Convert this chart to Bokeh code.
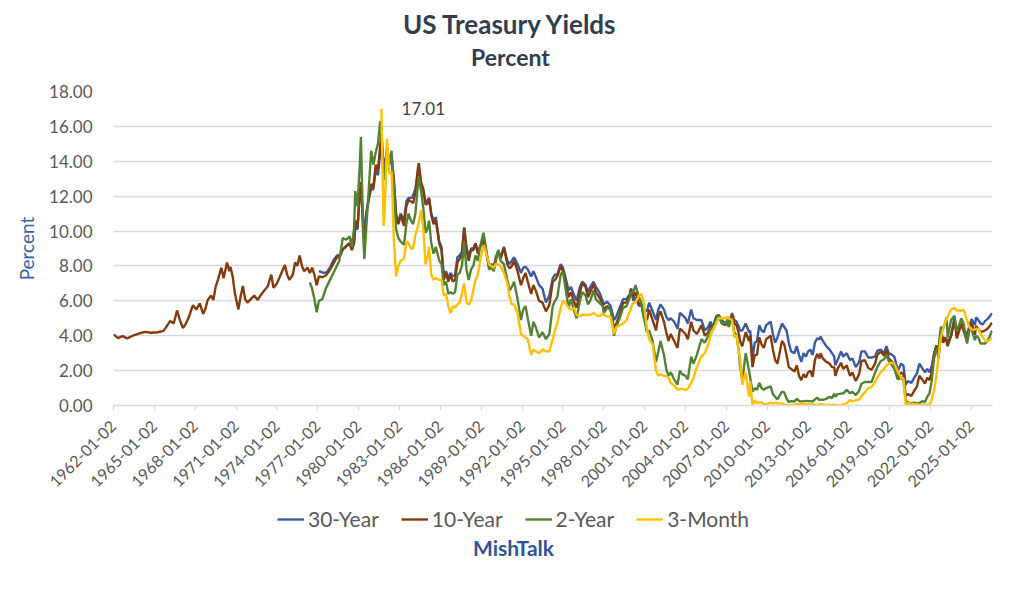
from math import pi

from bokeh.embed import file_html
from bokeh.layouts import column
from bokeh.models import ColumnDataSource, FixedTicker, Label, Legend, NumeralTickFormatter, Range1d
from bokeh.plotting import figure
from bokeh.resources import INLINE

# (month, percent)
thirty_year = [
    ("1977-02", 7.70), ("1977-06", 7.60), ("1977-09", 7.65), ("1977-12", 7.95),
    ("1978-03", 8.35), ("1978-06", 8.60), ("1978-09", 8.60), ("1978-11", 8.95),
    ("1979-02", 9.10), ("1979-05", 9.30), ("1979-07", 8.95), ("1979-09", 9.30),
    ("1979-10", 10.20), ("1979-12", 10.10), ("1980-02", 12.20), ("1980-03", 12.50),
    ("1980-06", 9.80), ("1980-08", 11.20), ("1980-10", 11.90), ("1980-12", 12.40),
    ("1981-02", 12.40), ("1981-04", 13.50), ("1981-06", 13.20), ("1981-09", 15.20),
    ("1981-11", 13.20), ("1982-01", 14.20), ("1982-04", 13.90), ("1982-06", 13.90),
    ("1982-08", 12.80), ("1982-10", 11.00), ("1982-12", 10.50), ("1983-02", 11.00),
    ("1983-05", 10.60), ("1983-07", 11.70), ("1983-09", 11.90), ("1983-12", 11.90),
    ("1984-03", 12.40), ("1984-06", 13.70), ("1984-08", 12.70), ("1984-10", 12.30),
    ("1984-12", 11.60), ("1985-03", 11.90), ("1985-05", 11.00), ("1985-07", 10.60),
    ("1985-09", 10.80), ("1985-12", 9.40), ("1986-02", 9.10), ("1986-04", 7.40),
    ("1986-06", 7.70), ("1986-08", 7.30), ("1986-10", 7.60), ("1986-12", 7.40),
    ("1987-02", 7.50), ("1987-04", 8.50), ("1987-06", 8.60), ("1987-08", 8.80),
    ("1987-10", 10.20), ("1987-12", 9.10), ("1988-02", 8.50), ("1988-04", 9.00),
    ("1988-06", 9.00), ("1988-08", 9.30), ("1988-10", 8.80), ("1988-12", 9.10),
    ("1989-03", 9.30), ("1989-05", 8.90), ("1989-08", 8.00), ("1989-10", 8.10),
    ("1989-12", 7.90), ("1990-02", 8.50), ("1990-04", 8.90), ("1990-06", 8.50),
    ("1990-09", 9.10), ("1990-12", 8.30), ("1991-02", 8.10), ("1991-04", 8.30),
    ("1991-06", 8.50), ("1991-09", 8.10), ("1991-12", 7.60), ("1992-02", 7.90),
    ("1992-04", 7.95), ("1992-06", 7.80), ("1992-09", 7.40), ("1992-11", 7.70),
    ("1993-01", 7.40), ("1993-04", 6.90), ("1993-07", 6.70), ("1993-10", 5.90),
    ("1994-01", 6.30), ("1994-04", 7.30), ("1994-06", 7.50), ("1994-08", 7.50),
    ("1994-11", 8.10), ("1995-01", 7.90), ("1995-03", 7.40), ("1995-06", 6.60),
    ("1995-08", 6.80), ("1995-11", 6.30), ("1996-01", 6.00), ("1996-04", 6.80),
    ("1996-06", 7.10), ("1996-09", 6.90), ("1996-11", 6.50), ("1997-01", 6.80),
    ("1997-04", 7.10), ("1997-06", 6.80), ("1997-09", 6.50), ("1997-12", 6.00),
    ("1998-01", 5.80), ("1998-04", 5.95), ("1998-07", 5.70), ("1998-10", 4.90),
    ("1998-12", 5.10), ("1999-03", 5.60), ("1999-06", 6.10), ("1999-09", 6.10),
    ("1999-12", 6.40), ("2000-01", 6.70), ("2000-03", 6.00), ("2000-05", 6.20),
    ("2000-08", 5.70), ("2000-10", 5.80), ("2000-12", 5.50), ("2001-03", 5.40),
    ("2001-05", 5.90), ("2001-08", 5.40), ("2001-11", 4.90), ("2002-01", 5.50),
    ("2002-03", 5.80), ("2002-06", 5.50), ("2002-08", 5.10), ("2002-10", 4.90),
    ("2002-12", 5.00), ("2003-03", 4.80), ("2003-06", 4.40), ("2003-08", 5.30),
    ("2003-10", 5.20), ("2004-01", 5.00), ("2004-03", 4.70), ("2004-06", 5.50),
    ("2004-08", 5.00), ("2004-11", 4.90), ("2005-03", 4.90), ("2005-06", 4.30),
    ("2005-09", 4.50), ("2005-11", 4.80), ("2006-01", 4.50), ("2006-04", 5.10),
    ("2006-06", 5.20), ("2006-09", 4.90), ("2006-12", 4.70), ("2007-02", 4.90),
    ("2007-03", 4.70), ("2007-06", 5.30), ("2007-08", 4.90), ("2007-10", 4.80),
    ("2007-12", 4.50), ("2008-01", 4.30), ("2008-03", 4.30), ("2008-06", 4.70),
    ("2008-09", 4.20), ("2008-10", 4.30), ("2008-12", 2.70), ("2009-02", 3.60),
    ("2009-04", 3.70), ("2009-06", 4.60), ("2009-08", 4.30), ("2009-10", 4.20),
    ("2009-12", 4.60), ("2010-04", 4.80), ("2010-06", 4.10), ("2010-08", 3.60),
    ("2010-10", 3.90), ("2011-02", 4.70), ("2011-04", 4.50), ("2011-06", 4.30),
    ("2011-08", 3.60), ("2011-10", 3.10), ("2012-01", 3.00), ("2012-03", 3.40),
    ("2012-05", 2.90), ("2012-07", 2.50), ("2012-09", 3.00), ("2012-11", 2.80),
    ("2013-01", 3.10), ("2013-03", 3.20), ("2013-05", 2.90), ("2013-07", 3.60),
    ("2013-09", 3.85), ("2013-11", 3.80), ("2013-12", 3.95), ("2014-02", 3.70),
    ("2014-05", 3.40), ("2014-08", 3.20), ("2014-10", 3.00), ("2014-12", 2.80),
    ("2015-01", 2.30), ("2015-03", 2.60), ("2015-06", 3.10), ("2015-08", 2.80),
    ("2015-11", 3.00), ("2016-02", 2.60), ("2016-04", 2.70), ("2016-07", 2.20),
    ("2016-10", 2.50), ("2016-12", 3.10), ("2017-03", 3.10), ("2017-06", 2.75),
    ("2017-09", 2.75), ("2017-12", 2.80), ("2018-02", 3.15), ("2018-05", 3.20),
    ("2018-08", 3.00), ("2018-10", 3.40), ("2018-12", 3.00), ("2019-03", 2.90),
    ("2019-05", 2.80), ("2019-08", 2.00), ("2019-11", 2.40), ("2020-01", 2.30),
    ("2020-03", 1.20), ("2020-05", 1.40), ("2020-08", 1.30), ("2020-11", 1.65),
    ("2021-01", 1.85), ("2021-03", 2.40), ("2021-06", 2.10), ("2021-08", 1.90),
    ("2021-10", 2.10), ("2021-12", 1.90), ("2022-02", 2.25), ("2022-04", 3.00),
    ("2022-06", 3.40), ("2022-08", 3.10), ("2022-10", 4.30), ("2022-12", 3.80),
    ("2023-02", 3.90), ("2023-04", 3.65), ("2023-07", 4.00), ("2023-10", 5.05),
    ("2023-12", 4.00), ("2024-02", 4.40), ("2024-04", 4.75), ("2024-06", 4.45),
    ("2024-09", 4.00), ("2024-11", 4.55), ("2025-01", 4.95), ("2025-04", 4.60),
    ("2025-05", 5.05), ("2025-07", 4.90), ("2025-09", 4.70), ("2025-11", 4.65),
    ("2026-01", 4.85), ("2026-03", 4.95), ("2026-05", 5.10), ("2026-07", 5.30),
]

ten_year = [
    ("1962-01", 4.08), ("1962-05", 3.86), ("1962-09", 3.98), ("1963-01", 3.85),
    ("1963-06", 4.00), ("1963-12", 4.14), ("1964-05", 4.22), ("1964-10", 4.17),
    ("1965-04", 4.20), ("1965-09", 4.28), ("1965-12", 4.55), ("1966-03", 4.85),
    ("1966-06", 4.70), ("1966-09", 5.45), ("1966-11", 5.00), ("1967-02", 4.45),
    ("1967-04", 4.60), ("1967-07", 5.00), ("1967-11", 5.75), ("1968-02", 5.50),
    ("1968-05", 5.85), ("1968-08", 5.25), ("1968-10", 5.55), ("1968-12", 6.05),
    ("1969-03", 6.30), ("1969-05", 6.05), ("1969-07", 6.80), ("1969-09", 7.20),
    ("1969-12", 7.90), ("1970-02", 7.30), ("1970-05", 8.20), ("1970-07", 7.70),
    ("1970-08", 7.95), ("1970-10", 7.40), ("1970-12", 6.40), ("1971-03", 5.50),
    ("1971-05", 6.25), ("1971-07", 6.85), ("1971-09", 6.10), ("1971-11", 5.90),
    ("1972-02", 6.10), ("1972-05", 6.30), ("1972-08", 6.05), ("1972-11", 6.35),
    ("1973-02", 6.60), ("1973-05", 6.85), ("1973-08", 7.50), ("1973-10", 6.75),
    ("1974-01", 7.00), ("1974-05", 7.60), ("1974-08", 8.05), ("1974-10", 7.50),
    ("1974-12", 7.20), ("1975-03", 7.50), ("1975-05", 8.20), ("1975-07", 8.00),
    ("1975-09", 8.60), ("1975-11", 8.00), ("1976-01", 7.70), ("1976-04", 7.90),
    ("1976-06", 7.60), ("1976-08", 7.90), ("1976-10", 7.50), ("1976-12", 6.90),
    ("1977-02", 7.40), ("1977-05", 7.35), ("1977-08", 7.45), ("1977-11", 7.70),
    ("1978-02", 8.05), ("1978-05", 8.40), ("1978-08", 8.60), ("1978-11", 8.95),
    ("1979-02", 9.15), ("1979-05", 9.30), ("1979-07", 8.90), ("1979-09", 9.40),
    ("1979-10", 10.60), ("1979-12", 10.20), ("1980-02", 12.30), ("1980-03", 12.80),
    ("1980-05", 10.00), ("1980-06", 9.50), ("1980-08", 11.00), ("1980-10", 11.80),
    ("1980-12", 12.70), ("1981-02", 12.50), ("1981-04", 13.80), ("1981-06", 13.50),
    ("1981-09", 15.60), ("1981-11", 13.40), ("1981-12", 13.90), ("1982-02", 14.60),
    ("1982-04", 13.90), ("1982-06", 14.30), ("1982-08", 13.00), ("1982-10", 10.80),
    ("1982-12", 10.40), ("1983-02", 10.90), ("1983-05", 10.30), ("1983-07", 11.40),
    ("1983-09", 11.80), ("1983-11", 11.70), ("1984-01", 11.60), ("1984-03", 12.20),
    ("1984-05", 13.50), ("1984-06", 13.90), ("1984-08", 12.80), ("1984-10", 12.40),
    ("1984-12", 11.50), ("1985-02", 11.60), ("1985-03", 11.90), ("1985-05", 10.90),
    ("1985-07", 10.40), ("1985-09", 10.60), ("1985-12", 9.30), ("1986-02", 8.90),
    ("1986-04", 7.20), ("1986-06", 7.60), ("1986-08", 7.10), ("1986-10", 7.50),
    ("1986-12", 7.10), ("1987-02", 7.20), ("1987-04", 8.20), ("1987-06", 8.40),
    ("1987-08", 8.60), ("1987-10", 10.20), ("1987-12", 8.90), ("1988-02", 8.30),
    ("1988-04", 8.90), ("1988-06", 8.90), ("1988-08", 9.30), ("1988-10", 8.70),
    ("1988-12", 9.10), ("1989-03", 9.50), ("1989-05", 8.90), ("1989-08", 7.90),
    ("1989-10", 8.10), ("1989-12", 7.80), ("1990-02", 8.50), ("1990-04", 8.80),
    ("1990-06", 8.40), ("1990-09", 9.05), ("1990-12", 8.10), ("1991-02", 7.85),
    ("1991-04", 8.00), ("1991-06", 8.30), ("1991-09", 7.70), ("1991-12", 6.90),
    ("1992-02", 7.30), ("1992-04", 7.60), ("1992-06", 7.10), ("1992-09", 6.40),
    ("1992-11", 6.90), ("1993-01", 6.60), ("1993-04", 6.00), ("1993-07", 5.90),
    ("1993-10", 5.40), ("1994-01", 5.75), ("1994-04", 7.10), ("1994-06", 7.20),
    ("1994-08", 7.40), ("1994-11", 8.00), ("1995-01", 7.70), ("1995-03", 7.20),
    ("1995-06", 6.20), ("1995-08", 6.50), ("1995-11", 5.90), ("1996-01", 5.60),
    ("1996-04", 6.50), ("1996-06", 7.00), ("1996-09", 6.80), ("1996-11", 6.20),
    ("1997-01", 6.50), ("1997-04", 6.95), ("1997-06", 6.50), ("1997-09", 6.20),
    ("1997-12", 5.80), ("1998-01", 5.50), ("1998-04", 5.70), ("1998-07", 5.50),
    ("1998-10", 4.40), ("1998-12", 4.70), ("1999-03", 5.20), ("1999-06", 5.90),
    ("1999-09", 5.90), ("1999-12", 6.30), ("2000-01", 6.70), ("2000-03", 6.20),
    ("2000-05", 6.50), ("2000-08", 5.80), ("2000-10", 5.80), ("2000-12", 5.20),
    ("2001-03", 4.90), ("2001-05", 5.50), ("2001-08", 4.90), ("2001-11", 4.30),
    ("2002-01", 5.10), ("2002-03", 5.40), ("2002-06", 4.80), ("2002-08", 4.20),
    ("2002-10", 3.70), ("2002-12", 4.10), ("2003-03", 3.70), ("2003-06", 3.30),
    ("2003-08", 4.40), ("2003-10", 4.30), ("2004-01", 4.10), ("2004-03", 3.80),
    ("2004-06", 4.80), ("2004-08", 4.30), ("2004-11", 4.10), ("2005-03", 4.60),
    ("2005-06", 4.00), ("2005-09", 4.20), ("2005-11", 4.60), ("2006-01", 4.40),
    ("2006-04", 5.00), ("2006-06", 5.20), ("2006-09", 4.70), ("2006-12", 4.60),
    ("2007-02", 4.80), ("2007-03", 4.50), ("2007-06", 5.20), ("2007-08", 4.70),
    ("2007-10", 4.60), ("2007-12", 4.10), ("2008-01", 3.70), ("2008-03", 3.40),
    ("2008-06", 4.20), ("2008-09", 3.70), ("2008-10", 4.00), ("2008-12", 2.20),
    ("2009-02", 2.90), ("2009-04", 2.90), ("2009-06", 3.90), ("2009-08", 3.50),
    ("2009-10", 3.30), ("2009-12", 3.80), ("2010-04", 4.00), ("2010-06", 3.20),
    ("2010-08", 2.60), ("2010-10", 2.40), ("2011-02", 3.70), ("2011-04", 3.50),
    ("2011-06", 2.90), ("2011-08", 2.20), ("2011-10", 2.10), ("2012-01", 1.95),
    ("2012-03", 2.30), ("2012-05", 1.70), ("2012-07", 1.45), ("2012-09", 1.80),
    ("2012-11", 1.60), ("2013-01", 1.90), ("2013-03", 2.00), ("2013-05", 1.65),
    ("2013-07", 2.60), ("2013-09", 2.95), ("2013-11", 2.70), ("2013-12", 3.00),
    ("2014-02", 2.70), ("2014-05", 2.50), ("2014-08", 2.40), ("2014-10", 2.20),
    ("2014-12", 2.20), ("2015-01", 1.70), ("2015-03", 2.10), ("2015-06", 2.45),
    ("2015-08", 2.10), ("2015-11", 2.30), ("2016-02", 1.70), ("2016-04", 1.90),
    ("2016-07", 1.40), ("2016-10", 1.80), ("2016-12", 2.55), ("2017-03", 2.60),
    ("2017-06", 2.15), ("2017-09", 2.05), ("2017-12", 2.40), ("2018-02", 2.90),
    ("2018-05", 3.10), ("2018-08", 2.85), ("2018-10", 3.20), ("2018-12", 2.70),
    ("2019-03", 2.50), ("2019-05", 2.30), ("2019-08", 1.55), ("2019-11", 1.90),
    ("2020-01", 1.80), ("2020-03", 0.55), ("2020-05", 0.65), ("2020-08", 0.55),
    ("2020-11", 0.90), ("2021-01", 1.10), ("2021-03", 1.70), ("2021-06", 1.45),
    ("2021-08", 1.25), ("2021-10", 1.60), ("2021-12", 1.45), ("2022-02", 1.95),
    ("2022-04", 2.90), ("2022-06", 3.45), ("2022-08", 2.70), ("2022-10", 4.20),
    ("2022-12", 3.60), ("2023-02", 3.90), ("2023-04", 3.40), ("2023-07", 4.00),
    ("2023-10", 4.95), ("2023-12", 3.85), ("2024-02", 4.25), ("2024-04", 4.65),
    ("2024-06", 4.30), ("2024-09", 3.65), ("2024-11", 4.40), ("2025-01", 4.75),
    ("2025-04", 4.05), ("2025-05", 4.55), ("2025-07", 4.40), ("2025-09", 4.20),
    ("2025-11", 4.25), ("2026-01", 4.30), ("2026-03", 4.40), ("2026-05", 4.55),
    ("2026-07", 4.75),
]

two_year = [
    ("1976-06", 7.05), ("1976-08", 6.70), ("1976-10", 6.10), ("1976-12", 5.35),
    ("1977-02", 6.00), ("1977-05", 6.10), ("1977-08", 6.70), ("1977-11", 7.10),
    ("1978-02", 7.50), ("1978-05", 7.90), ("1978-08", 8.30), ("1978-11", 9.60),
    ("1979-02", 9.50), ("1979-05", 9.70), ("1979-07", 9.10), ("1979-09", 10.20),
    ("1979-10", 12.30), ("1979-12", 11.40), ("1980-02", 13.80), ("1980-03", 15.40),
    ("1980-05", 9.80), ("1980-06", 8.40), ("1980-08", 10.50), ("1980-10", 12.50),
    ("1980-12", 14.60), ("1981-02", 13.80), ("1981-04", 14.50), ("1981-06", 15.00),
    ("1981-08", 16.30), ("1981-09", 16.00), ("1981-11", 12.90), ("1981-12", 13.40),
    ("1982-02", 14.80), ("1982-04", 13.90), ("1982-06", 14.60), ("1982-08", 12.50),
    ("1982-10", 10.10), ("1982-12", 9.60), ("1983-02", 9.40), ("1983-05", 9.20),
    ("1983-07", 10.40), ("1983-09", 11.00), ("1983-11", 10.60), ("1984-01", 10.40),
    ("1984-03", 11.00), ("1984-05", 12.50), ("1984-06", 13.10), ("1984-08", 12.30),
    ("1984-10", 11.30), ("1984-12", 9.90), ("1985-02", 10.20), ("1985-03", 10.60),
    ("1985-05", 9.30), ("1985-07", 8.70), ("1985-09", 9.10), ("1985-12", 8.30),
    ("1986-02", 8.10), ("1986-04", 6.90), ("1986-06", 7.10), ("1986-08", 6.40),
    ("1986-10", 6.50), ("1986-12", 6.40), ("1987-02", 6.50), ("1987-04", 7.50),
    ("1987-06", 7.60), ("1987-08", 8.00), ("1987-10", 9.40), ("1987-12", 7.80),
    ("1988-02", 7.20), ("1988-04", 7.80), ("1988-06", 8.00), ("1988-08", 8.60),
    ("1988-10", 8.30), ("1988-12", 9.10), ("1989-03", 9.90), ("1989-05", 9.10),
    ("1989-08", 7.80), ("1989-10", 7.90), ("1989-12", 7.70), ("1990-02", 8.30),
    ("1990-04", 8.90), ("1990-06", 8.30), ("1990-09", 8.10), ("1990-12", 7.20),
    ("1991-02", 6.60), ("1991-04", 6.80), ("1991-06", 7.10), ("1991-09", 6.10),
    ("1991-12", 4.90), ("1992-02", 5.50), ("1992-04", 5.70), ("1992-06", 5.00),
    ("1992-09", 4.00), ("1992-11", 4.80), ("1993-01", 4.50), ("1993-04", 3.90),
    ("1993-07", 4.20), ("1993-10", 3.80), ("1994-01", 4.10), ("1994-04", 5.70),
    ("1994-06", 6.00), ("1994-08", 6.20), ("1994-11", 7.50), ("1995-01", 7.70),
    ("1995-03", 6.80), ("1995-06", 5.60), ("1995-08", 6.10), ("1995-11", 5.40),
    ("1996-01", 5.00), ("1996-04", 6.00), ("1996-06", 6.50), ("1996-09", 6.30),
    ("1996-11", 5.80), ("1997-01", 6.00), ("1997-04", 6.60), ("1997-06", 6.10),
    ("1997-09", 5.90), ("1997-12", 5.70), ("1998-01", 5.30), ("1998-04", 5.60),
    ("1998-07", 5.50), ("1998-10", 4.00), ("1998-12", 4.50), ("1999-03", 5.00),
    ("1999-06", 5.60), ("1999-09", 5.70), ("1999-12", 6.20), ("2000-01", 6.50),
    ("2000-03", 6.50), ("2000-05", 6.90), ("2000-08", 6.20), ("2000-10", 5.90),
    ("2000-12", 5.10), ("2001-03", 4.20), ("2001-05", 4.30), ("2001-08", 3.70),
    ("2001-11", 2.50), ("2002-01", 3.10), ("2002-03", 3.70), ("2002-06", 2.90),
    ("2002-08", 2.10), ("2002-10", 1.70), ("2002-12", 1.90), ("2003-03", 1.50),
    ("2003-06", 1.20), ("2003-08", 2.00), ("2003-10", 1.80), ("2004-01", 1.70),
    ("2004-03", 1.50), ("2004-06", 2.80), ("2004-08", 2.40), ("2004-11", 2.90),
    ("2005-03", 3.80), ("2005-06", 3.60), ("2005-09", 4.00), ("2005-11", 4.40),
    ("2006-01", 4.40), ("2006-04", 4.90), ("2006-06", 5.20), ("2006-09", 4.70),
    ("2006-12", 4.70), ("2007-02", 4.90), ("2007-03", 4.55), ("2007-06", 5.00),
    ("2007-08", 4.20), ("2007-10", 4.00), ("2007-12", 3.10), ("2008-01", 2.30),
    ("2008-03", 1.40), ("2008-06", 3.00), ("2008-09", 2.00), ("2008-10", 1.60),
    ("2008-12", 0.80), ("2009-02", 1.00), ("2009-04", 0.90), ("2009-06", 1.30),
    ("2009-08", 1.00), ("2009-10", 0.90), ("2009-12", 1.00), ("2010-04", 1.10),
    ("2010-06", 0.65), ("2010-08", 0.50), ("2010-10", 0.35), ("2011-02", 0.80),
    ("2011-04", 0.75), ("2011-06", 0.40), ("2011-08", 0.20), ("2011-10", 0.25),
    ("2012-01", 0.23), ("2012-03", 0.38), ("2012-05", 0.27), ("2012-07", 0.22),
    ("2012-09", 0.25), ("2012-11", 0.26), ("2013-01", 0.25), ("2013-03", 0.25),
    ("2013-05", 0.22), ("2013-07", 0.35), ("2013-09", 0.45), ("2013-11", 0.30),
    ("2013-12", 0.35), ("2014-02", 0.32), ("2014-05", 0.38), ("2014-08", 0.50),
    ("2014-10", 0.42), ("2014-12", 0.68), ("2015-01", 0.50), ("2015-03", 0.65),
    ("2015-06", 0.68), ("2015-08", 0.70), ("2015-11", 0.90), ("2016-02", 0.70),
    ("2016-04", 0.78), ("2016-07", 0.60), ("2016-10", 0.85), ("2016-12", 1.25),
    ("2017-03", 1.35), ("2017-06", 1.35), ("2017-09", 1.35), ("2017-12", 1.88),
    ("2018-02", 2.20), ("2018-05", 2.55), ("2018-08", 2.65), ("2018-10", 2.90),
    ("2018-12", 2.55), ("2019-03", 2.30), ("2019-05", 2.10), ("2019-08", 1.50),
    ("2019-11", 1.60), ("2020-01", 1.45), ("2020-03", 0.30), ("2020-05", 0.17),
    ("2020-08", 0.13), ("2020-11", 0.16), ("2021-01", 0.12), ("2021-03", 0.15),
    ("2021-06", 0.25), ("2021-08", 0.20), ("2021-10", 0.50), ("2021-12", 0.70),
    ("2022-02", 1.45), ("2022-04", 2.70), ("2022-06", 3.20), ("2022-08", 3.30),
    ("2022-10", 4.50), ("2022-12", 4.40), ("2023-02", 4.80), ("2023-03", 5.05),
    ("2023-04", 3.90), ("2023-07", 4.90), ("2023-10", 5.15), ("2023-12", 4.25),
    ("2024-02", 4.60), ("2024-04", 5.00), ("2024-06", 4.70), ("2024-09", 3.55),
    ("2024-11", 4.30), ("2025-01", 4.35), ("2025-04", 3.75), ("2025-05", 4.00),
    ("2025-07", 3.90), ("2025-09", 3.55), ("2025-11", 3.55), ("2026-01", 3.55),
    ("2026-03", 3.70), ("2026-05", 3.95), ("2026-07", 4.30),
]

three_month = [
    ("1981-09", 17.01), ("1981-10", 13.80), ("1981-11", 10.30), ("1981-12", 11.20),
    ("1982-02", 15.30), ("1982-04", 13.30), ("1982-06", 13.40), ("1982-08", 9.50),
    ("1982-10", 7.40), ("1982-12", 8.00), ("1983-02", 8.30), ("1983-05", 8.40),
    ("1983-07", 9.40), ("1983-09", 9.30), ("1983-11", 9.00), ("1984-01", 9.00),
    ("1984-03", 9.80), ("1984-05", 10.20), ("1984-08", 11.20), ("1984-10", 10.10),
    ("1984-12", 8.10), ("1985-02", 8.60), ("1985-03", 9.10), ("1985-05", 7.50),
    ("1985-07", 7.20), ("1985-09", 7.30), ("1985-12", 7.20), ("1986-02", 7.20),
    ("1986-04", 6.30), ("1986-06", 6.40), ("1986-08", 5.70), ("1986-10", 5.30),
    ("1986-12", 5.70), ("1987-02", 5.60), ("1987-04", 5.80), ("1987-06", 5.90),
    ("1987-08", 6.40), ("1987-10", 7.00), ("1987-12", 5.90), ("1988-02", 5.80),
    ("1988-04", 6.00), ("1988-06", 6.60), ("1988-08", 7.20), ("1988-10", 7.50),
    ("1988-12", 8.30), ("1989-03", 9.20), ("1989-05", 8.80), ("1989-08", 8.10),
    ("1989-10", 8.00), ("1989-12", 7.90), ("1990-02", 8.10), ("1990-04", 8.10),
    ("1990-06", 8.00), ("1990-09", 7.60), ("1990-12", 7.00), ("1991-02", 6.20),
    ("1991-04", 5.80), ("1991-06", 5.80), ("1991-09", 5.30), ("1991-12", 4.10),
    ("1992-02", 4.00), ("1992-04", 3.90), ("1992-06", 3.80), ("1992-09", 2.90),
    ("1992-11", 3.20), ("1993-01", 3.10), ("1993-04", 3.00), ("1993-07", 3.20),
    ("1993-10", 3.10), ("1994-01", 3.10), ("1994-04", 3.80), ("1994-06", 4.30),
    ("1994-08", 4.70), ("1994-11", 5.60), ("1995-01", 6.00), ("1995-03", 5.90),
    ("1995-06", 5.60), ("1995-08", 5.50), ("1995-11", 5.60), ("1996-01", 5.20),
    ("1996-04", 5.10), ("1996-06", 5.20), ("1996-09", 5.20), ("1996-11", 5.20),
    ("1997-01", 5.20), ("1997-04", 5.30), ("1997-06", 5.20), ("1997-09", 5.10),
    ("1997-12", 5.30), ("1998-01", 5.20), ("1998-04", 5.10), ("1998-07", 5.10),
    ("1998-10", 4.10), ("1998-12", 4.50), ("1999-03", 4.60), ("1999-06", 4.70),
    ("1999-09", 4.90), ("1999-12", 5.40), ("2000-01", 5.60), ("2000-03", 5.90),
    ("2000-05", 5.90), ("2000-08", 6.30), ("2000-10", 6.40), ("2000-12", 6.00),
    ("2001-03", 4.40), ("2001-05", 3.80), ("2001-08", 3.50), ("2001-11", 2.00),
    ("2002-01", 1.70), ("2002-03", 1.80), ("2002-06", 1.70), ("2002-08", 1.70),
    ("2002-10", 1.60), ("2002-12", 1.30), ("2003-03", 1.15), ("2003-06", 0.90),
    ("2003-08", 0.95), ("2003-10", 0.95), ("2004-01", 0.90), ("2004-03", 0.95),
    ("2004-06", 1.30), ("2004-08", 1.55), ("2004-11", 2.20), ("2005-03", 2.80),
    ("2005-06", 3.00), ("2005-09", 3.50), ("2005-11", 4.00), ("2006-01", 4.30),
    ("2006-04", 4.70), ("2006-06", 5.00), ("2006-09", 5.00), ("2006-12", 5.00),
    ("2007-02", 5.10), ("2007-03", 5.00), ("2007-06", 4.90), ("2007-08", 3.90),
    ("2007-09", 4.00), ("2007-10", 4.00), ("2007-12", 3.00), ("2008-01", 2.80),
    ("2008-03", 1.20), ("2008-06", 1.90), ("2008-09", 0.50), ("2008-10", 1.40),
    ("2008-12", 0.02), ("2009-02", 0.30), ("2009-04", 0.15), ("2009-06", 0.18),
    ("2009-08", 0.17), ("2009-10", 0.07), ("2009-12", 0.05), ("2010-04", 0.16),
    ("2010-06", 0.12), ("2010-08", 0.15), ("2010-10", 0.13), ("2011-02", 0.12),
    ("2011-04", 0.05), ("2011-06", 0.03), ("2011-08", 0.02), ("2011-10", 0.02),
    ("2012-01", 0.04), ("2012-03", 0.09), ("2012-05", 0.09), ("2012-07", 0.10),
    ("2012-09", 0.11), ("2012-11", 0.09), ("2013-01", 0.08), ("2013-03", 0.09),
    ("2013-05", 0.04), ("2013-07", 0.04), ("2013-09", 0.02), ("2013-11", 0.07),
    ("2013-12", 0.07), ("2014-02", 0.06), ("2014-05", 0.03), ("2014-08", 0.03),
    ("2014-10", 0.02), ("2014-12", 0.04), ("2015-01", 0.03), ("2015-03", 0.03),
    ("2015-06", 0.01), ("2015-08", 0.08), ("2015-11", 0.12), ("2016-02", 0.32),
    ("2016-04", 0.23), ("2016-07", 0.30), ("2016-10", 0.34), ("2016-12", 0.51),
    ("2017-03", 0.75), ("2017-06", 1.01), ("2017-09", 1.05), ("2017-12", 1.35),
    ("2018-02", 1.60), ("2018-05", 1.90), ("2018-08", 2.10), ("2018-10", 2.30),
    ("2018-12", 2.40), ("2019-03", 2.45), ("2019-05", 2.38), ("2019-08", 1.95),
    ("2019-11", 1.58), ("2020-01", 1.55), ("2020-03", 0.05), ("2020-05", 0.13),
    ("2020-08", 0.10), ("2020-11", 0.08), ("2021-01", 0.08), ("2021-03", 0.03),
    ("2021-06", 0.05), ("2021-08", 0.05), ("2021-10", 0.05), ("2021-12", 0.06),
    ("2022-02", 0.35), ("2022-04", 0.85), ("2022-06", 1.70), ("2022-08", 2.85),
    ("2022-10", 3.90), ("2022-12", 4.40), ("2023-02", 4.80), ("2023-04", 5.10),
    ("2023-07", 5.50), ("2023-10", 5.60), ("2023-12", 5.45), ("2024-02", 5.45),
    ("2024-04", 5.45), ("2024-06", 5.50), ("2024-09", 4.90), ("2024-11", 4.50),
    ("2025-01", 4.35), ("2025-04", 4.35), ("2025-05", 4.40), ("2025-07", 4.40),
    ("2025-09", 4.10), ("2025-11", 3.90), ("2026-01", 3.70), ("2026-03", 3.70),
    ("2026-05", 3.75), ("2026-07", 3.90),
]

series_names = ["30-Year", "10-Year", "2-Year", "3-Month"]
series_colors = ["#3A5BA0", "#843C0C", "#548235", "#FFC000"]
tick_years = list(range(1962, 2026, 3))
peak_label = "17.01"

FONT = "Lato"
GREY = "#595959"
W = 1016
LEFT, RIGHT = 113, 24   # same side borders for every band, so the frames line up


def to_source(series):
    # "YYYY-MM" -> fractional year
    x = [int(d[:4]) + (int(d[5:7]) - 1) / 12 for d, _ in series]
    y = [v for _, v in series]
    return ColumnDataSource(data=dict(x=x, y=y))


def strip(height):
    # a plain band whose x range is in page pixels, for the texts above and below the chart
    f = figure(width=W, height=height, output_backend="svg", toolbar_location=None,
               x_range=Range1d(LEFT, W - RIGHT), y_range=Range1d(0, height),
               min_border_left=LEFT, min_border_right=RIGHT, min_border_top=0, min_border_bottom=0,
               x_axis_location=None, y_axis_location=None)
    f.outline_line_color = None
    f.grid.visible = False
    return f


sources = [to_source(s) for s in (thirty_year, ten_year, two_year, three_month)]

# --- title band
head = strip(81)
head.add_layout(Label(x=510, y=58, text="US Treasury Yields", text_align="center",
                      text_baseline="middle", text_font=FONT, text_font_style="bold",
                      text_font_size="26px", text_color="#323E4F"))
head.add_layout(Label(x=510, y=25, text="Percent", text_align="center",
                      text_baseline="middle", text_font=FONT, text_font_style="bold",
                      text_font_size="23px", text_color="#323E4F"))

# --- chart
p = figure(width=W, height=416, output_backend="svg", toolbar_location=None,
           x_range=Range1d(1962, 2026.54), y_range=Range1d(0, 18),
           min_border_left=LEFT, min_border_right=RIGHT, min_border_top=10, min_border_bottom=92)
p.outline_line_color = None
p.xgrid.grid_line_color = None
p.ygrid.grid_line_color = "#D9D9D9"
p.ygrid.grid_line_width = 1.5

p.yaxis.ticker = FixedTicker(ticks=list(range(0, 19, 2)))
p.yaxis.formatter = NumeralTickFormatter(format="0.00")
p.yaxis.axis_line_color = None
p.yaxis.major_tick_line_color = None
p.yaxis.minor_tick_line_color = None
p.yaxis.major_label_standoff = 15
p.yaxis.major_label_text_font = FONT
p.yaxis.major_label_text_font_size = "17px"
p.yaxis.major_label_text_color = GREY
p.yaxis.axis_label = "Percent"
p.yaxis.axis_label_standoff = 8
p.yaxis.axis_label_text_font = FONT
p.yaxis.axis_label_text_font_size = "19px"
p.yaxis.axis_label_text_font_style = "normal"
p.yaxis.axis_label_text_color = "#3D62A8"

p.xaxis.ticker = FixedTicker(ticks=tick_years)
p.xaxis.major_label_overrides = {y: f"{y}-01-02" for y in tick_years}
p.xaxis.major_label_orientation = pi / 4
p.xaxis.axis_line_color = "#D9D9D9"
p.xaxis.axis_line_width = 1.5
p.xaxis.major_tick_line_color = "#D9D9D9"
p.xaxis.major_tick_in = 0
p.xaxis.major_tick_out = 5
p.xaxis.minor_tick_line_color = None
p.xaxis.major_label_standoff = 13
p.xaxis.major_label_text_font = FONT
p.xaxis.major_label_text_font_size = "16px"
p.xaxis.major_label_text_color = GREY

for src, color in zip(sources, series_colors):
    p.line("x", "y", source=src, color=color, line_width=2.4)

p.add_layout(Label(x=1983.15, y=17.03, text=peak_label, text_align="left",
                   text_baseline="middle", text_font=FONT, text_font_size="17px",
                   text_color="#404040"))

# --- legend band: same series and line styles; the band's pixel ranges keep the years out of view
foot = strip(85)
keys = [foot.line("x", "y", source=src, color=c, line_width=2.4)
        for src, c in zip(sources, series_colors)]
legend = Legend(items=[(name, [r]) for name, r in zip(series_names, keys)],
                orientation="horizontal", location=(164, 51), glyph_width=27, glyph_height=24,
                label_standoff=4, spacing=22, padding=0, margin=0, border_line_color=None,
                background_fill_alpha=0, label_text_font=FONT, label_text_font_size="21px",
                label_text_color=GREY)
foot.add_layout(legend)
foot.add_layout(Label(x=513, y=35, text="MishTalk", text_align="center",
                      text_baseline="middle", text_font=FONT, text_font_style="bold",
                      text_font_size="21px", text_color="#2F5597"))

page = column(head, p, foot, spacing=0)
open("out.html", "w").write(file_html(page, INLINE))
